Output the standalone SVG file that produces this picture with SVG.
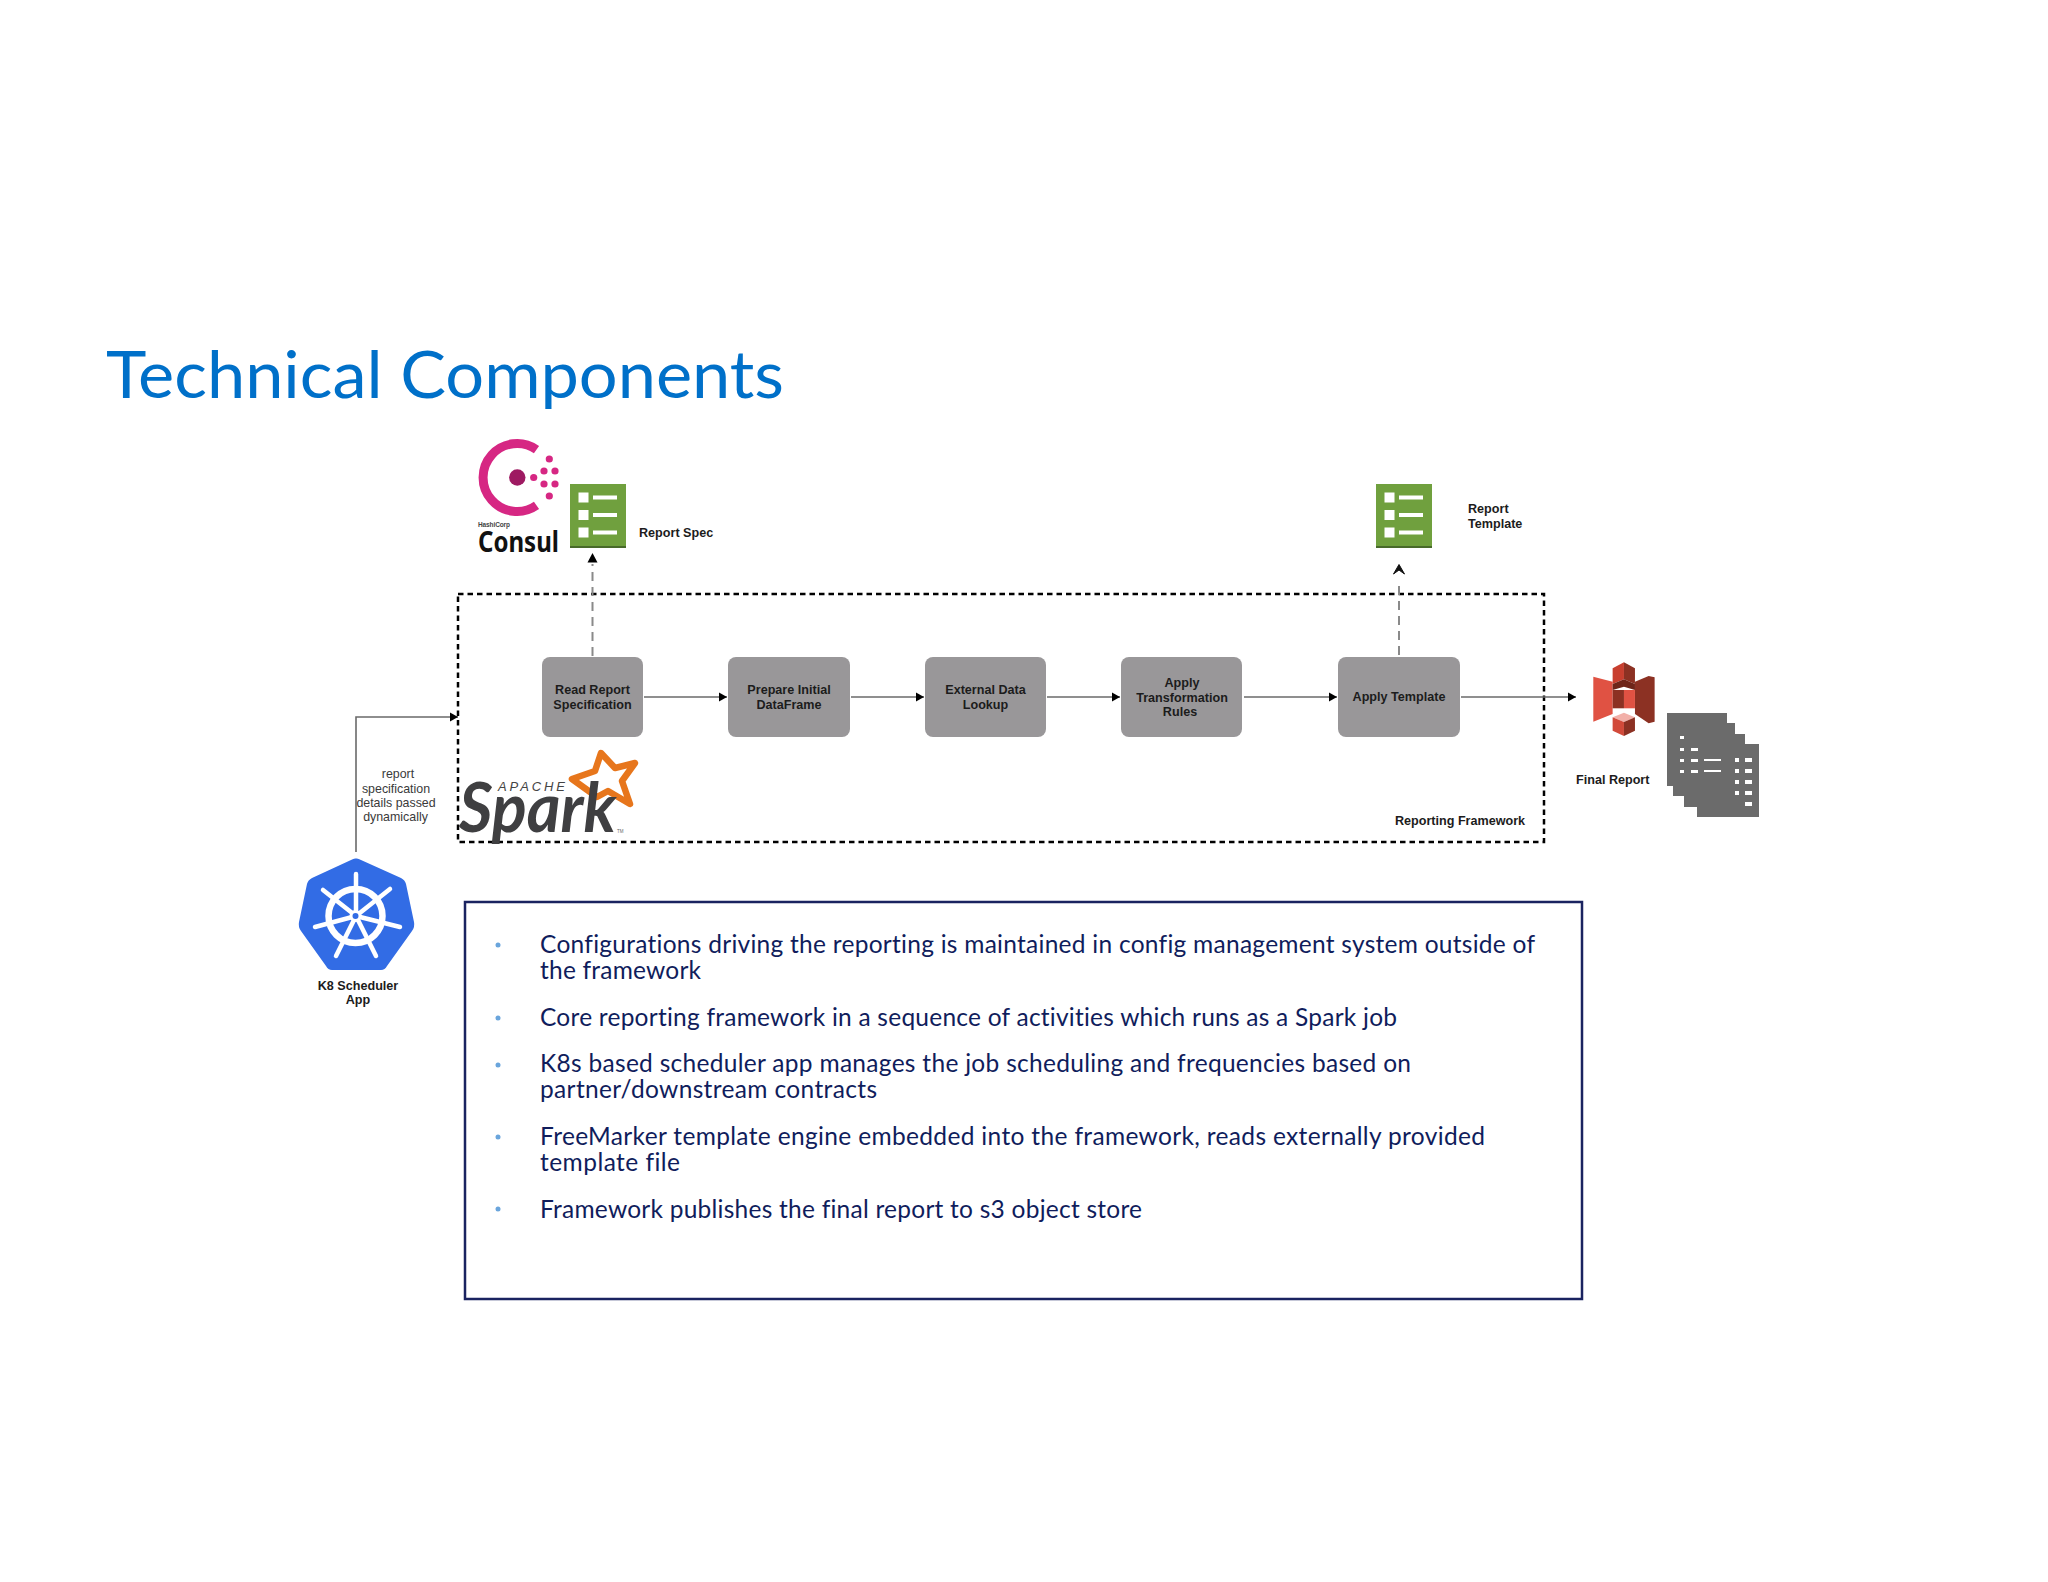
<svg xmlns="http://www.w3.org/2000/svg" width="2048" height="1582" viewBox="0 0 2048 1582">
<style>
.b{font-family:"Liberation Sans",Arial,sans-serif;font-weight:700;font-size:12.6px;fill:#1c1c1c;text-anchor:middle}
.l{text-anchor:start}
.r{font-family:"Liberation Sans",Arial,sans-serif;font-size:12.4px;fill:#3a3a3a;text-anchor:middle}
.t{font-family:Lato,"Open Sans",sans-serif;font-size:24.5px;fill:#101d5c;font-variant-ligatures:none}
.box{fill:#999799}
.c{fill:none;stroke:#6a6a6a;stroke-width:1.6}
.d{fill:none;stroke:#8a8a8a;stroke-width:2;stroke-dasharray:9 6}
.bul{fill:#6aa5dc}
.w{fill:#fff}
</style>
<defs>
<marker id="a" markerUnits="userSpaceOnUse" markerWidth="10" markerHeight="10" refX="8" refY="5" orient="auto"><path d="M0 .5L8 5L0 9.5z" fill="#000"/></marker>
<g id="sheet">
<rect x="0" y="0" width="56" height="64" fill="#70a03e"/>
<rect x="0" y="62" width="56" height="2" fill="#486a2a"/>
<rect x="8.5" y="8.5" width="10" height="10" class="w"/><rect x="23" y="11.5" width="24" height="4" class="w"/>
<rect x="8.5" y="26" width="10" height="10" class="w"/><rect x="23" y="29" width="24" height="4" class="w"/>
<rect x="8.5" y="43.5" width="10" height="10" class="w"/><rect x="23" y="46.5" width="24" height="4" class="w"/>
</g>
</defs>
<rect width="2048" height="1582" fill="#fff"/>
<text id="title" x="106" y="398" font-family="Lato,'Open Sans',sans-serif" font-size="66" fill="#0070c9" textLength="678" lengthAdjust="spacingAndGlyphs">Technical Components</text>

<g id="reporting-framework">
<rect x="458" y="594" width="1086" height="248" fill="none" stroke="#000" stroke-width="2.500" stroke-dasharray="5.500 4"/>
<text class="b" x="1460" y="825">Reporting Framework</text>
</g>

<g id="connectors">
<path class="c" d="M356 852V717H458" marker-end="url(#a)"/>
<path class="c" d="M644 697H727" marker-end="url(#a)"/>
<path class="c" d="M851 697H924" marker-end="url(#a)"/>
<path class="c" d="M1047 697H1120" marker-end="url(#a)"/>
<path class="c" d="M1244 697H1337" marker-end="url(#a)"/>
<path class="c" d="M1461 697H1576" marker-end="url(#a)"/>
<path class="d" d="M592.500 656V564"/><path d="M587.500 562.500L592.500 553L597.500 562.500z" fill="#000"/>
<path class="d" d="M1399 655V580"/><path d="M1393.500 574L1399 564.500L1404.500 574L1399 570z" fill="#111" stroke="#111"/>
</g>

<g id="n-read"><rect class="box" x="542" y="657" width="101" height="80" rx="8"/><text class="b" x="592.500" y="694">Read Report</text><text class="b" x="592.500" y="709">Specification</text></g>
<g id="n-prepare"><rect class="box" x="728" y="657" width="122" height="80" rx="8"/><text class="b" x="789" y="694">Prepare Initial</text><text class="b" x="789" y="709">DataFrame</text></g>
<g id="n-lookup"><rect class="box" x="925" y="657" width="121" height="80" rx="8"/><text class="b" x="985.500" y="694">External Data</text><text class="b" x="985.500" y="708.500">Lookup</text></g>
<g id="n-rules"><rect class="box" x="1121" y="657" width="121" height="80" rx="8"/><text class="b" x="1182" y="687">Apply</text><text class="b" x="1182" y="701.500">Transformation</text><text class="b" x="1180" y="716">Rules</text></g>
<g id="n-apply"><rect class="box" x="1338" y="657" width="122" height="80" rx="8"/><text class="b" x="1399" y="701">Apply Template</text></g>

<g id="n-consul">
<path d="M536.500 449.600A34 34 0 1 0 536.500 505.400" fill="none" stroke="#d62783" stroke-width="9"/>
<circle cx="517.300" cy="477.500" r="8.200" fill="#9e1a62"/>
<g fill="#d62783"><circle cx="533.700" cy="477.500" r="3.600"/><circle cx="544" cy="471" r="3.600"/><circle cx="555" cy="471" r="3.600"/><circle cx="544" cy="484" r="3.600"/><circle cx="555" cy="484" r="3.600"/><circle cx="549.300" cy="459" r="3.600"/><circle cx="549.300" cy="496" r="3.600"/></g>
<text x="478" y="527" font-family="'Liberation Sans',sans-serif" font-size="6.500" font-weight="700" fill="#444" textLength="32">HashiCorp</text>
<text x="478" y="552" font-family="'Noto Sans',sans-serif" font-size="28" font-weight="700" fill="#111" textLength="81" lengthAdjust="spacingAndGlyphs">Consul</text>
</g>
<g id="n-report-spec"><use href="#sheet" x="570" y="484"/><text class="b l" x="639" y="537">Report Spec</text></g>
<g id="n-report-template"><use href="#sheet" x="1376" y="484"/><text class="b l" x="1468" y="513">Report</text><text class="b l" x="1468" y="528">Template</text></g>

<g id="n-spark">
<path d="M601 753L615 768L635 763L622 781L630 804L608 791L597 797L572 779L595 771z" fill="#fff" stroke="#e7761c" stroke-width="6.500" stroke-linejoin="round"/>
<text x="459" y="832" font-family="Lato,sans-serif" font-size="68" font-weight="700" font-style="italic" fill="#3f3f41" textLength="157" lengthAdjust="spacingAndGlyphs">Spark</text>
<text x="498" y="791" font-family="'Liberation Sans',sans-serif" font-size="13" font-style="italic" fill="#444" textLength="67">APACHE</text>
<text x="617" y="833" font-family="'Liberation Sans',sans-serif" font-size="4.500" fill="#666">TM</text>
</g>

<g id="n-k8s">
<path d="M356 858.500Q358 858 361 860L401 878Q405 880 406 884L414 922Q415 927 412 931L387 966Q385 970 381 970H332Q328 970 326 966L301 931Q298 927 299 922L307 884Q308 880 312 878L351 860Q354 858 356 858.500z" fill="#326ce5"/>
<g fill="none" stroke="#fff" stroke-linecap="round">
<circle cx="355.500" cy="916" r="27" stroke-width="6.500"/>
<path stroke-width="4.500" d="M356 874V916M390 889L356 916M400 927L356 916M376 956L356 916M336 956L356 916M315 927L356 916M323 890L356 916"/>
</g>
<circle cx="355.500" cy="916" r="4.500" fill="#326ce5" stroke="#fff" stroke-width="3"/>
<text class="b" x="358" y="990">K8 Scheduler</text><text class="b" x="358" y="1004">App</text>
</g>
<g id="label-dynamic">
<text class="r" x="398" y="778">report</text><text class="r" x="396" y="792.500">specification</text><text class="r" x="396" y="807">details passed</text><text class="r" x="395.500" y="821">dynamically</text>
</g>

<g id="n-s3" transform="translate(1300 460) scale(.3333)">
<path d="M880 650L938 665V762L880 785z" fill="#e05243"/>
<path d="M1005 665L1046 648L1064 652V785L1046 790L1005 762z" fill="#8c3123"/>
<path d="M938 625L972 607V658L938 672z" fill="#c83f2f"/>
<path d="M972 607L1005 625V672L972 658z" fill="#8c3123"/>
<path d="M938 672L972 658L1005 672V690L972 680L938 690z" fill="#6e2519"/>
<path d="M938 690L972 690V745L938 745z" fill="#8c3123"/>
<path d="M972 690L1005 690V745L972 745z" fill="#e05243"/>
<path d="M938 772L972 758L1005 772L972 786z" fill="#f2b0a9"/>
<path d="M938 772L972 786V828L938 812z" fill="#d24a3a"/>
<path d="M972 786L1005 772V812L972 828z" fill="#8c3123"/>
</g>
<g id="n-final-report">
<text class="b l" x="1576" y="784">Final Report</text>
<path fill="#6b6b6b" d="M1667 713H1727V723H1735V734H1745V744H1759V817H1697V807H1684V796H1673V786H1667z"/>
<g fill="#fff">
<rect x="1680" y="736" width="4" height="3"/><rect x="1680" y="748" width="4" height="3"/><rect x="1680" y="759" width="4" height="3"/><rect x="1680" y="770" width="4" height="3"/>
<rect x="1691" y="748" width="7" height="3"/><rect x="1691" y="759" width="7" height="3"/><rect x="1691" y="770" width="7" height="3"/>
<rect x="1704" y="759" width="17" height="2"/><rect x="1704" y="770" width="17" height="2"/>
<rect x="1735" y="758" width="4" height="4"/><rect x="1735" y="769" width="4" height="4"/><rect x="1735" y="780" width="4" height="4"/><rect x="1735" y="791" width="4" height="4"/>
<rect x="1745" y="758" width="7" height="4"/><rect x="1745" y="769" width="7" height="4"/><rect x="1745" y="780" width="7" height="4"/><rect x="1745" y="791" width="7" height="4"/><rect x="1745" y="802" width="7" height="4"/>
</g>
</g>

<g id="n-notes">
<rect x="465" y="902" width="1117" height="397" fill="#fff" stroke="#1a2360" stroke-width="2.500"/>
<circle class="bul" cx="498" cy="945" r="2.500"/>
<circle class="bul" cx="498" cy="1018" r="2.500"/>
<circle class="bul" cx="498" cy="1065" r="2.500"/>
<circle class="bul" cx="498" cy="1137" r="2.500"/>
<circle class="bul" cx="498" cy="1209" r="2.500"/>
<text class="t" x="540" y="953" textLength="995">Configurations driving the reporting is maintained in config management system outside of</text>
<text class="t" x="540" y="979" textLength="161">the framework</text>
<text class="t" x="540" y="1026" textLength="857">Core reporting framework in a sequence of activities which runs as a Spark job</text>
<text class="t" x="540" y="1072" textLength="871">K8s based scheduler app manages the job scheduling and frequencies based on</text>
<text class="t" x="540" y="1098" textLength="337">partner/downstream contracts</text>
<text class="t" x="540" y="1145" textLength="945">FreeMarker template engine embedded into the framework, reads externally provided</text>
<text class="t" x="540" y="1171" textLength="140">template file</text>
<text class="t" x="540" y="1218" textLength="602">Framework publishes the final report to s3 object store</text>
</g>
</svg>
